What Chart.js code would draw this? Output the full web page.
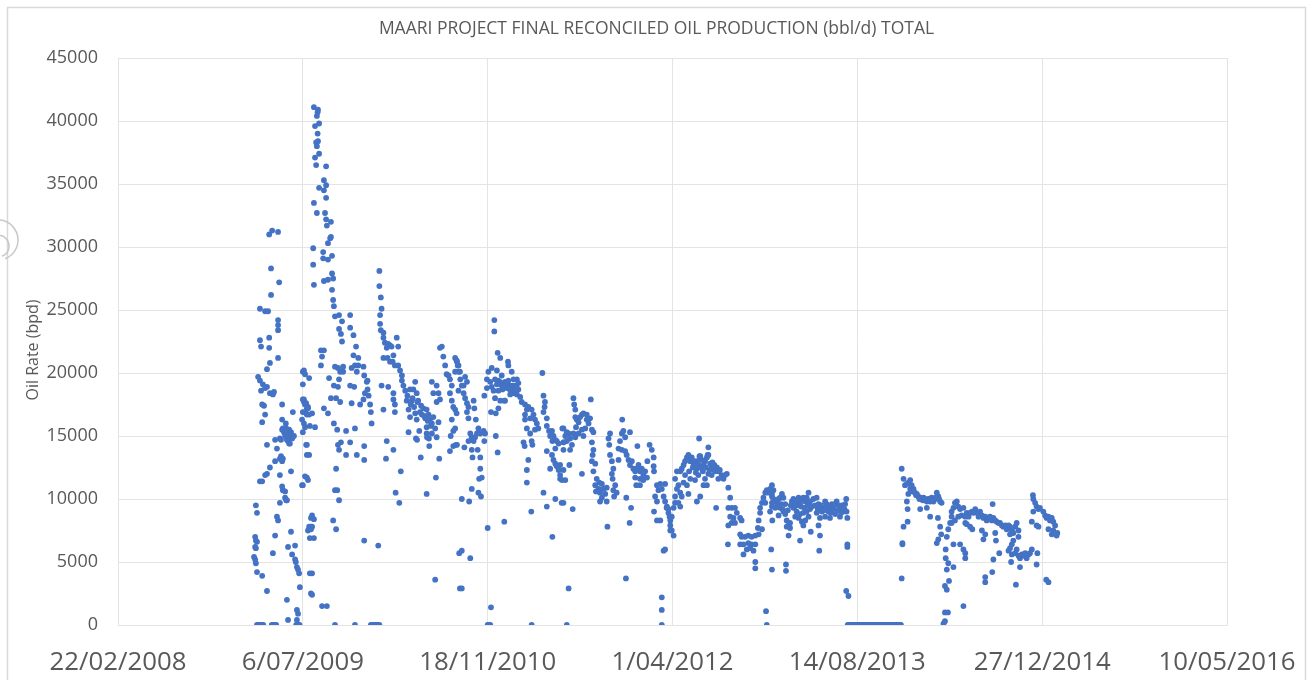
<!DOCTYPE html>
<html>
<head>
<meta charset="utf-8">
<title>Maari oil production</title>
<script src="https://cdn.jsdelivr.net/npm/chart.js@4.4.1/dist/chart.umd.min.js"></script>
<style>
  html, body { margin: 0; padding: 0; background: #ffffff; }
  #wrap { position: relative; width: 1308px; height: 680px; }
</style>
</head>
<body>
<div id="wrap"><canvas id="chart" width="1308" height="680"></canvas></div>
<script>
// Daily reconciled oil rate, each row is [Excel date serial, bbl/d]
const prod2009a = [
  [39868,5400],[39871,7000],[39871,6200],[39871,5200],[39873,6700],[39873,6100],[39873,4900],[39873,9500],[39876,6600],[39876,4200],[39876,8900],[39890,3900],[39903,2700],
  [39884,11400],[39890,11400],[39898,11900],[39903,12000],[39903,14300],[39890,16100],[39898,16700],[39895,17400],[39890,17500],
  [39887,18600],[39903,18900],[39911,18400],[39919,18300],[39922,18500],[39884,19400],[39879,19700],[39892,19100],[39898,18800],
  [39911,20800],[39903,20300],[39933,21200],[39884,22600],[39887,22100],[39909,22800],[39909,22000],
  [39884,25100],[39898,24900],[39906,24900],[39933,24200],[39933,23800],[39933,23400],
  [39914,28300],[39914,26200],[39936,27200],[39909,31000],[39917,31300],[39933,31200],
  [39911,12500],[39925,13000],[39938,13200],[39941,13400],[39946,13200],[39944,13000],
  [39938,11900],[39944,11000],[39946,10700],[39952,10600],[39952,10100],[39955,9900],[39957,9900],[39938,9700],
  [39925,14700],[39930,14000],[39938,14800],[39941,14700],[39944,15500],[39946,15600],[39949,15300],[39955,15600],[39954,16000],
  [39960,15500],[39960,15200],[39963,15500],[39957,14700],[39960,14600],[39963,14400],[39944,16300],[39944,17500],[39973,16900],[39965,14400],
  [39952,15000],[39957,15300],[39965,15000],[39968,15300],[39971,14800],[39976,15000],
  [39968,12200],[39930,8600],[39933,8300],[39925,7100],[39919,5700],
  [39960,6200],[39979,6300],[39968,7400],[39971,5600],[39979,5200],[39981,5000],[39984,4600],[39987,4400],[39990,4100],
  [39992,3000],[39957,2000],[39960,400],[39984,1200],[39987,900],[39984,400],
  [39876,0],[39880,0],[39884,0],[39889,0],[39893,0],[39916,0],[39920,0],[39924,0],[39928,0],[39982,0],[39985,0],[39988,0],[39991,0]
];

const prod2009b = [
  [39998,16300],[40003,17700],[40003,17900],[40006,17500],[40009,16800],[40011,17200],[40014,17200],[40003,16000],[40006,15700],[40009,14300],[40017,13500],[40033,15700],[40025,16800],
  [39998,11100],[40011,11700],[40014,11500],[40025,8700],[40030,8400],[40022,7800],[40025,7800],[40019,6900],[40030,6900],
  [40025,4100],[40025,2400],[40065,1500],
  [40030,41100],[40041,40900],[40038,40400],[40040,40700],[40033,39600],[40044,39800],[40040,39000],[40036,38300],[40041,38400],[40038,38000],[40044,37400],[40033,37100],[40036,36500],[40063,36400],
  [40057,35300],[40063,34900],[40044,34700],[40057,34500],[40063,33900],[40030,33500],
  [40038,32700],[40060,32700],[40063,32200],[40076,32000],[40065,31700],
  [40028,29900],[40074,30700],[40076,30800],[40068,30300],[40055,29600],[40055,29100],[40068,29000],[40079,29300],
  [40028,28600],[40030,27000],[40057,27300],[40068,27400],[40079,27900],[40082,27500],
  [40079,26600],[40082,25800],[40084,25300],[40087,24500],[40098,24600],[40106,24100],[40098,23500],[40103,23100],[40106,22500],
  [40049,21800],[40057,21800],[40052,21300],[40049,20600],
  [40000,20100],[40003,20200],[40006,19900],[40000,19100],[40017,19600],
  [40087,20500],[40095,20400],[40101,20100],[40109,20500],[40109,20100],[40098,19500],
  [40071,19600],[40084,19000],[40095,18900],[40090,18000],[40101,17700],
  [40000,17900],[40009,17600],[40000,16900],[40006,16900],[40011,16700],[40017,16700],[40014,17300],
  [40076,18000],[40057,17200],[40068,16800],[40019,15800],[40000,15300],
  [40084,16000],[40093,15500],[40095,14300],[40103,14500],[40098,13900],[40117,15400],[40117,13500],
  [40011,14300],[40011,13500],[40006,11800],[40000,11100],
  [40090,12400],[40087,10700],[40093,10700],[40098,9900],
  [40022,8500],[40017,7800],[40014,7500],[40022,7600],
  [40082,8300],[40090,7600],[40019,4100],[40022,2500],[40052,1500],
  [40128,24600],[40128,23600],[40137,23000],[40144,22100],[40137,21400],[40150,21200],[40141,20600],[40150,20600],[40132,20400],[40146,20100],
  [40128,19000],[40139,18900],[40132,17600],[40141,15600],
  [40164,20500],[40166,19800],[40173,19300],[40175,19400],[40168,18400],[40175,18700],[40178,18200],[40155,17500],[40164,17900],
  [40128,14500],[40146,13500],[40166,14200],[40166,13100],[40166,6700],
  [40087,0],[40141,0]
];

const prod2010 = [
  [40182,17500],[40184,16900],[40186,16000],[40204,6300],
  [40184,0],[40188,0],[40192,0],[40196,0],[40200,0],[40204,0],[40207,0],
  [40207,28100],[40207,26900],[40211,26000],[40213,25100],[40209,24600],[40209,23900],[40211,23400],[40218,23200],[40218,22800],[40222,22400],[40231,22300],[40236,22200],[40227,22000],[40240,22100],[40254,22800],[40258,22100],
  [40218,21200],[40229,21200],[40236,20900],[40243,20900],[40245,21400],[40249,20600],[40258,20600],[40263,20200],[40268,19800],[40268,19400],[40272,19000],
  [40213,19000],[40231,18900],[40218,17100],[40245,18400],[40245,17900],[40249,17500],[40249,16900],
  [40227,14600],[40245,13900],[40225,13200],[40251,10500],[40261,9700],[40265,12200],
  [40277,18600],[40290,18700],[40299,18700],[40304,19300],[40308,18400],[40281,17800],[40286,17100],[40295,17800],[40301,17300],[40312,17800],[40290,16500],[40304,16800],[40308,16300],[40317,16900],[40322,16700],[40326,17200],[40335,17100],[40331,16400],[40340,16700],[40344,16300],[40349,16000],[40335,15700],[40353,16500],[40367,16100],[40358,15600],[40349,15200],[40362,14900],[40286,15300],[40306,14800],[40315,15400],[40335,15200],[40342,14200],
  [40283,18200],[40292,17500],[40297,18000],[40310,17700],[40320,17400],[40328,16600],[40338,16200],[40346,15800],
  [40319,13300],[40335,10400],[40360,11700],[40369,13200],[40349,19300],[40353,18400],[40362,19000],
  [40371,22000],[40376,22100],[40380,21300],[40385,20600],[40389,19900],[40394,19800],[40398,19500],[40403,19000],[40398,18400],[40403,17800],[40407,17300],[40412,17100],[40416,16800],[40416,21000],[40421,20600],[40425,20100],
  [40362,17700],[40367,18400],[40371,17900],[40403,16300],[40407,15400],[40400,15000],[40398,13800],[40407,14200],[40414,14300],
  [40358,3600],[40423,5700],[40425,2900],[40309,14700],[40341,14800],[40336,14900],
  [40412,21200],[40417,20900],[40419,20600],[40412,20100],[40421,20100],[40426,19500],[40430,19000],[40435,19000],[40435,18400],[40421,18600],[40439,19700],[40444,19300],[40439,18000],[40444,17600],[40448,17300],[40444,16900],[40448,16400],[40462,17800],[40464,17200],[40468,16300],
  [40412,15600],[40417,14300],[40437,14100],[40453,15200],[40457,14900],[40448,14600],[40462,14600],[40466,14900],[40471,15200],[40475,15600],[40480,15200],[40489,15400],[40493,15200],[40491,14600],
  [40457,13900],[40459,13300],[40473,13900],[40480,13300],[40480,12400],[40477,11600],[40484,11700],[40457,10800],[40475,10500],[40482,10200],[40430,10000],[40450,9800],
  [40430,5900],[40453,5300],[40430,2900],[40500,7700],[40509,1400],
  [40500,0],[40503,0],[40507,0],
  [40518,24200],[40518,23300],[40527,21600],[40534,21200],[40511,20400],[40525,20200],[40502,20100],[40498,19500],[40507,19300],[40498,18800],[40511,18900],[40491,18200],[40516,18600],[40520,18000],[40529,19400],[40538,19800],[40538,19000],[40534,17800],[40509,16900],[40522,16800],[40529,17200],
  [40522,15000],[40527,13700],[40520,19500],[40525,19100],[40529,18600],[40543,19200],[40533,19300],[40540,18700]
];

const prod2011 = [
  [40547,19300],[40552,18800],[40561,19000],[40555,20900],[40556,20600],[40565,20100],[40570,19500],[40574,19000],[40579,19500],[40583,18700],[40570,18400],[40579,18300],[40547,17800],[40545,17800],
  [40547,18900],[40556,19400],[40561,18300],[40565,18800],[40574,18600],[40583,19200],[40551,19100],[40560,18700],[40568,19000],[40578,18900],
  [40588,18100],[40592,17700],[40601,17500],[40606,17100],[40610,17300],[40619,17100],[40624,16700],[40615,16400],[40628,16300],[40633,16000],[40637,15600],[40628,15500],[40601,16700],[40601,16300],[40606,15600],[40615,15200],[40619,14600],[40597,14500],[40600,14200],[40621,14300],
  [40648,20000],[40651,18200],[40655,17700],[40654,17300],[40651,16900],[40660,16400],[40660,15800],[40666,15400],[40674,15400],[40678,15000],[40683,14700],[40687,14600],[40692,14400],[40669,15000],[40675,14600],[40683,14000],[40660,13800],[40674,13500],[40678,13100],[40683,12800],[40687,12600],[40692,12300],[40669,12400],[40696,11900],[40701,11500],[40702,15600],[40705,14500],[40705,13900],
  [40610,13100],[40606,12300],[40606,11300],[40651,10500],[40660,9400],[40683,10000],[40705,9700],[40618,9000],[40545,8200],[40675,7000],
  [40619,0],
  [40696,12700],[40705,12300],[40696,11600],[40710,11500],[40700,9700],[40730,9200],[40719,2900],[40714,0],
  [40705,15600],[40710,15000],[40714,14600],[40719,15200],[40723,14800],[40728,14300],[40723,13900],[40732,15200],[40737,14900],[40714,15300],[40705,14500],
  [40721,12700],[40755,12000],
  [40732,18000],[40734,17500],[40737,17100],[40737,16500],[40741,16300],[40746,16100],[40750,16500],[40755,16700],[40759,16800],[40768,16700],[40777,16400],[40773,16000],[40764,15600],[40755,15500],[40746,15200],[40759,15000],[40779,17900],[40782,15500],[40786,15300],[40739,15700],[40768,16300],
  [40782,14500],[40786,13900],[40784,13500],[40782,13000],[40791,12800],[40786,12200],[40795,11600],[40791,11100],[40802,11300],[40809,11200],[40800,10800],[40793,10600],[40804,10500],[40813,10800],[40822,10900],[40809,10100],[40818,10400],[40804,9800],[40822,9800],
  [40827,14800],[40831,15200],[40829,14300],[40831,13500],[40836,13000],[40840,12400],[40836,12000],[40838,11600],[40845,11100],[40840,10700],[40849,10500],[40842,10200],[40824,7800],
  [40854,13100],[40858,14600],[40863,15200],[40867,15400],[40872,14900],[40854,14000],[40863,13900],[40872,13800],[40876,13500],[40881,13100],[40885,12700],[40890,13000],[40894,12400],[40899,12200],[40903,12400],[40908,12700],[40899,11700],[40902,11100],[40864,16300],[40885,15300],[40905,14200],
  [40875,10100],[40888,9300],[40884,8100],[40874,3700]
];

const prod2012 = [
  [40912,12200],[40917,12400],[40921,11900],[40926,12200],[40931,11700],[40912,11600],[40921,11500],[40912,11100],[40932,13000],
  [40938,14300],[40944,13900],[40949,13300],[40949,12600],[40950,12200],
  [40958,11100],[40962,10700],[40967,11200],[40971,10800],[40953,10200],[40958,9800],[40976,10200],[40980,9800],[40985,9400],[40989,9200],[40992,8600],[40994,7500],[40950,9000],[40958,8300],[40967,8300],[40976,5900],[40971,2200],[40971,1200],[40971,0],
  [40980,11200],[40984,9300],[40989,8900],[40994,8300],[40998,8600],[40994,7900],[40998,7500],[41003,7100],[40980,6000],
  [41007,10200],[41012,10800],[41016,11100],[41021,10500],[41025,10200],[41016,9700],[41003,9300],[41007,9700],[41021,9400],[41007,11600],[41012,12200],[41021,12200],[41025,12400],[41030,12700],[41034,13000],[41039,13300],[41043,13500],[41048,13000],[41052,13300],[41057,12700],[41061,13000],[41066,12400],[41070,12700],[41075,13400],[41079,13100],[41084,12700],[41088,13000],[41093,13300],[41097,13500],[41102,12800],[41106,12600],[41111,12400],[41115,12200],[41124,12200],[41133,11900],[41138,11600],[41147,12000],
  [41034,11900],[41048,11600],[41061,11500],[41070,11900],[41088,11600],[41097,12000],[41106,11900],[41124,11600],[41030,11300],[41039,11100],[41043,10400],[41066,9800],[41075,10200],[41084,11100],[41093,11100],[41072,14800],[41073,13400],[41097,14100],[41095,13500],[41118,9300],
  [41045,12200],[41055,12500],[41063,12100],[41068,13000],[41077,12500],[41082,12200],[41090,12500],[41100,12300],[41108,12900],[41113,12700],[41120,12500],[41128,12300],[41142,11900],
  [41151,10900],[41156,10100],[41151,9300],[41160,9300],[41169,9300],[41174,8900],[41156,8600],[41165,8500],[41160,8100],[41151,7900],[41169,8100],[41183,8500],[41187,8300],[41150,6400],
  [41183,7200],[41187,7000],[41196,7000],[41205,7100],[41214,7000],[41224,7100],[41233,7200],[41183,6400],[41192,6400],[41205,6500],[41214,6400],[41224,6400],[41201,6000],[41210,6100],[41219,5900],[41192,5600],[41224,5000],[41224,4500],[41242,7600],
  [41231,7700],[41233,8300],[41237,8900],[41237,9300],[41242,9700],[41246,10100],[41251,10500],[41255,10700],[41260,10500],[41264,10800],[41269,11100],[41273,10700],[41269,10200],[41251,9700],[41269,9700],[41270,8300],[41267,6000],[41269,4400],[41253,1100],[41255,0],
  [41269,10400],[41273,10000],[41264,9000],[41269,9400]
];

const prod2013 = [
  [41278,9300],[41282,9700],[41287,10000],[41291,10100],[41296,10400],[41300,10100],[41305,9600],[41291,9300],[41300,9000],[41287,8700],[41305,8800],[41309,8300],[41314,7900],[41318,8100],[41318,7700],[41309,7800],[41314,7100],
  [41323,9800],[41327,10000],[41332,9600],[41336,9800],[41341,10100],[41345,9700],[41350,10000],[41354,10100],[41359,9800],[41363,10100],[41368,10500],[41372,9800],[41327,9300],[41336,9000],[41345,8800],[41354,8900],[41363,9000],[41372,9200],[41341,8500],[41350,8200],[41359,8300],[41368,8600],[41332,8600],[41354,7900],[41345,6700],[41374,7400],
  [41381,10000],[41390,10100],[41395,9600],[41399,9300],[41404,9000],[41408,9300],[41413,9800],[41417,9600],[41422,9000],[41426,9300],[41431,9600],[41435,9200],[41440,9600],[41444,9800],[41449,9500],[41453,9200],[41458,9500],[41462,9000],[41467,9600],[41470,10000],[41471,9000],[41473,8500],[41390,8900],[41399,8500],[41413,8600],[41426,8500],[41440,8800],[41453,8600],[41395,7900],[41399,7100],[41397,5900],
  [41285,9400],[41294,9600],[41298,9200],[41312,9100],[41320,9500],[41330,9400],[41339,9500],[41348,9400],[41357,9300],[41366,9500],[41377,9400],[41385,9500],[41393,9200],[41402,9500],[41410,9100],[41419,9400],[41428,8900],[41437,9500],[41446,9100],[41456,8900],[41465,9200],
  [41307,4800],[41307,4300],[41473,6400],[41473,6200],[41470,2700],[41476,2300],
  [41620,12400],[41625,11600],[41629,11100],[41634,11200],[41638,11300],[41625,7800],[41636,9200],[41636,8200],[41622,6500],[41622,6400],[41620,3700],[41638,10400],[41634,9800]
];

// Field shut in: zero rate days
const shutdown2013 = [
  [41474,0],[41477,0],[41480,0],[41483,0],[41486,0],[41489,0],[41492,0],[41495,0],[41498,0],[41501,0],[41504,0],[41507,0],[41510,0],[41513,0],[41516,0],[41519,0],[41522,0],[41525,0],[41528,0],[41531,0],[41534,0],[41537,0],[41540,0],[41543,0],[41546,0],[41549,0],[41552,0],[41555,0],[41558,0],[41561,0],[41564,0],[41567,0],[41570,0],[41573,0],[41576,0],[41579,0],[41582,0],[41585,0],[41588,0],[41591,0],[41594,0],[41597,0],[41600,0],[41603,0],[41606,0],[41609,0],[41612,0],[41615,0],[41618,0]
];

const prod2014 = [
  [41643,11500],[41647,11100],[41652,10800],[41656,10500],[41661,10400],[41665,10200],[41670,10100],[41674,10000],[41679,10100],[41683,10000],[41688,9800],[41692,10000],[41697,9800],[41701,10100],[41706,9800],[41710,10000],[41715,10500],[41719,10200],[41724,9800],[41728,9700],[41643,10800],[41670,9200],[41688,9300],[41697,8600],[41718,8500],
  [41650,10600],[41659,10300],[41668,10000],[41677,9900],[41686,9900],[41695,9900],[41704,9900],[41712,10100],[41721,10000],
  [41724,7800],[41727,7200],[41715,6500],[41719,6800],[41742,7000],[41739,6000],[41739,5300],[41746,4900],[41742,4400],[41760,4600],[41748,3500],[41737,3100],[41742,2800],[41737,1000],[41745,1000],[41733,100],[41737,300],
  [41746,7600],[41751,8100],[41755,8600],[41755,9000],[41760,9300],[41764,9700],[41769,9800],[41773,9400],[41778,9200],[41782,8700],[41773,8600],[41764,8300],[41787,9300],[41755,8100],[41760,6400],[41778,6400],[41787,6000],[41792,5700],[41792,5300],[41787,1500],
  [41792,8600],[41796,8900],[41801,8600],[41805,8900],[41810,9000],[41814,8900],[41819,9200],[41823,8900],[41828,8600],[41832,9000],[41837,8700],[41792,8100],[41805,7800],[41796,8000],[41811,7600],[41837,7500],[41841,6800],[41846,3800],[41846,3400],
  [41841,8500],[41846,8600],[41850,8300],[41855,8500],[41859,8600],[41864,8300],[41868,8500],[41873,8300],[41877,8200],[41882,8100],[41886,8100],[41891,7900],[41895,7800],[41900,7900],[41904,7600],[41909,7900],[41913,7800],[41866,9600],[41846,7200],[41873,7300],[41875,6700],[41884,5700],[41868,5200],[41865,4200],
  [41913,7200],[41918,7500],[41922,7300],[41927,7800],[41931,8100],[41936,7500],[41936,7000],[41922,6700],[41918,6400],[41913,6100],[41909,5900],[41918,5600],[41927,5700],[41931,6000],[41936,5500],[41940,5300],[41945,5600],[41949,5500],[41954,5700],[41958,5300],[41963,5600],[41967,5700],[41972,6000],[41929,3200],[41940,4600],[41985,4800],[41916,5000],
  [41975,10300],[41976,10000],[41981,9700],[41985,9400],[41990,9200],[41994,9300],[42003,9000],[41976,9000],[41972,8200],[41985,7900],[41990,7800],[41987,5700]
];

const prod2015 = [
  [42008,8700],[42012,8500],[42017,8600],[42021,8300],[42026,8500],[42030,8200],[42035,7900],[42030,7500],[42017,7600],[42026,7200],[42039,7100],[42041,7300],[42011,3600],[42017,3400]
];

// Axis ticks: Excel date serials and their printed labels
const xTickSerials = [39500, 40000, 40500, 41000, 41500, 42000, 42500];
const xTickLabels = ['22/02/2008', '6/07/2009', '18/11/2010', '1/04/2012', '14/08/2013', '27/12/2014', '10/05/2016'];
const yTickValues = [0, 5000, 10000, 15000, 20000, 25000, 30000, 35000, 40000, 45000];

const chartTitle = 'MAARI PROJECT FINAL RECONCILED OIL PRODUCTION (bbl/d) TOTAL';
const yAxisTitle = 'Oil Rate (bpd)';

const allRows = [].concat(prod2009a, prod2009b, prod2010, prod2011, prod2012, prod2013, shutdown2013, prod2014, prod2015);
const points = allRows.map(([serial, bpd]) => ({ x: serial, y: bpd }));

const TEXT = '#595959';
const GRID = '#e4e4e4';
const FONT = '"Open Sans", "DejaVu Sans", sans-serif';

// Outer chart border, centred title, vertical axis title and the small grey arc on the left edge
const decorations = {
  id: 'decorations',
  beforeDraw(chart) {
    const ctx = chart.ctx;
    ctx.save();
    ctx.fillStyle = '#ffffff';
    ctx.fillRect(0, 0, chart.width, chart.height);
    ctx.strokeStyle = '#d9d9d9';
    ctx.lineWidth = 1.5;
    ctx.strokeRect(7.5, 7.5, 1298, 700);
    ctx.fillStyle = TEXT;
    ctx.font = '17.5px ' + FONT;
    ctx.textAlign = 'center';
    ctx.textBaseline = 'middle';
    ctx.fillText(chartTitle, 656.5, 29);
    ctx.translate(33, 350);
    ctx.rotate(-Math.PI / 2);
    ctx.font = '16px ' + FONT;
    ctx.fillText(yAxisTitle, 0, 0);
    ctx.restore();
    ctx.save();
    ctx.strokeStyle = '#c8c8c8';
    ctx.lineWidth = 1.5;
    ctx.beginPath();
    ctx.arc(-2, 240, 20, -Math.PI / 2, Math.PI / 2.6);
    ctx.stroke();
    ctx.beginPath();
    ctx.arc(-2, 246, 11, -Math.PI / 2, Math.PI / 2.6);
    ctx.stroke();
    ctx.restore();
  }
};

new Chart(document.getElementById('chart'), {
  type: 'scatter',
  data: {
    datasets: [{
      label: 'Oil Rate',
      data: points,
      pointRadius: 2.9,
      pointHoverRadius: 2.9,
      pointBackgroundColor: '#4472C4',
      pointBorderColor: '#4472C4',
      pointBorderWidth: 0,
      showLine: false
    }]
  },
  options: {
    responsive: false,
    animation: false,
    events: [],
    layout: { padding: { top: 58, right: 81, bottom: 0, left: 0 } },
    plugins: {
      legend: { display: false },
      tooltip: { enabled: false },
      title: { display: false }
    },
    scales: {
      x: {
        type: 'linear',
        min: xTickSerials[0],
        max: xTickSerials[xTickSerials.length - 1],
        afterBuildTicks(scale) { scale.ticks = xTickSerials.map(v => ({ value: v })); },
        afterFit(scale) { scale.height = 55; },
        grid: { color: GRID, lineWidth: 1, drawTicks: true, tickLength: 22, tickColor: 'rgba(0,0,0,0)' },
        border: { display: true, color: GRID },
        ticks: {
          autoSkip: false,
          maxRotation: 0,
          minRotation: 0,
          padding: 0,
          color: TEXT,
          font: { family: FONT, size: 25.8 },
          callback(value) {
            const i = xTickSerials.indexOf(value);
            return i >= 0 ? xTickLabels[i] : '';
          }
        }
      },
      y: {
        type: 'linear',
        min: yTickValues[0],
        max: yTickValues[yTickValues.length - 1],
        afterBuildTicks(scale) { scale.ticks = yTickValues.map(v => ({ value: v })); },
        afterFit(scale) { scale.width = 118; },
        grid: { color: GRID, lineWidth: 1, drawTicks: false },
        border: { display: true, color: GRID },
        title: { display: false },
        ticks: {
          padding: 20,
          color: TEXT,
          font: { family: FONT, size: 18 },
          callback(value) { return String(value); }
        }
      }
    }
  },
  plugins: [decorations]
});
</script>
</body>
</html>
